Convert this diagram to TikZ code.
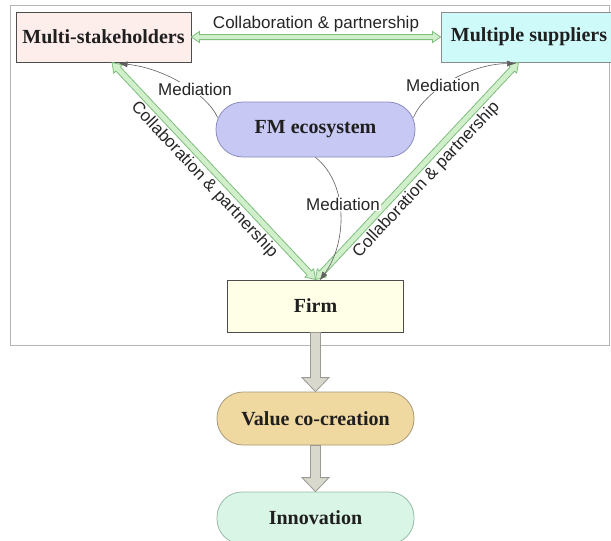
\documentclass[tikz,border=0pt]{standalone}
\usepackage{fontspec}
\setmainfont{Liberation Serif}
\setsansfont{Liberation Sans}
\usetikzlibrary{calc,arrows.meta}
\definecolor{msfill}{HTML}{FDEDEB}
\definecolor{supfill}{HTML}{CFFAFA}
\definecolor{fmfill}{HTML}{C8C8F5}
\definecolor{fmdraw}{HTML}{8C8CC0}
\definecolor{firmfill}{HTML}{FFFFE8}
\definecolor{vccfill}{HTML}{EFD9A1}
\definecolor{vccdraw}{HTML}{A8997A}
\definecolor{innfill}{HTML}{D9F5E6}
\definecolor{inndraw}{HTML}{9ABAAA}
\definecolor{gline}{HTML}{7DBE7D}
\definecolor{gfill}{HTML}{D2EFCC}
\definecolor{grayline}{HTML}{9A9A92}
\definecolor{grayfill}{HTML}{D8D8CC}
\definecolor{framecol}{HTML}{B4B4B4}
\definecolor{medline}{HTML}{606060}
% double-headed block arrow: #1 style, #2 A, #3 B, #4 half shaft, #5 half head, #6 head length
\newcommand\dblblockarrow[6]{%
  \coordinate (ba1) at ($(#2)!#6!(#3)$);
  \coordinate (ba2) at ($(#3)!#6!(#2)$);
  \filldraw[#1] (#2) -- ($(ba1)!#5!90:(#3)$) -- ($(ba1)!#4!90:(#3)$)
    -- ($(ba2)!#4!-90:(#2)$) -- ($(ba2)!#5!-90:(#2)$) -- (#3)
    -- ($(ba2)!#5!90:(#2)$) -- ($(ba2)!#4!90:(#2)$)
    -- ($(ba1)!#4!-90:(#3)$) -- ($(ba1)!#5!-90:(#3)$) -- cycle;}
% single-headed block arrow from A to B
\newcommand\oneblockarrow[6]{%
  \coordinate (ba2) at ($(#3)!#6!(#2)$);
  \filldraw[#1] ($(#2)!#4!90:(#3)$) -- ($(ba2)!#4!-90:(#2)$) -- ($(ba2)!#5!-90:(#2)$)
    -- (#3) -- ($(ba2)!#5!90:(#2)$) -- ($(ba2)!#4!90:(#2)$) -- ($(#2)!#4!-90:(#3)$) -- cycle;}
\begin{document}
\begin{tikzpicture}[x=1pt,y=1pt,
  boxlbl/.style={font=\fontsize{20}{24}\selectfont\bfseries, text=black!88},
  rectbox/.style={boxlbl, draw=black!70, line width=0.9pt, minimum width=175pt, minimum height=50pt, inner sep=0pt},
  pill/.style={boxlbl, line width=0.8pt, inner sep=0pt},
  edgelbl/.style={font=\sffamily\fontsize{17}{20}\selectfont, text=black!85, inner sep=1pt},
  medlbl/.style={edgelbl, fill=white},
  greenarrow/.style={draw=gline, fill=gfill, line width=0.8pt, line join=miter},
  grayarrow/.style={draw=grayline, fill=grayfill, line width=0.8pt},
  mediation/.style={draw=medline, line width=0.6pt, -{Latex[length=9pt,width=6pt]}}]
\fill[white] (0,0) rectangle (611,-541);
\useasboundingbox (0,0) rectangle (611,-541);
\draw[framecol, line width=1pt] (10,-5) rectangle (609,-345);

\node[rectbox, fill=msfill] (ms) at (103.5,-37) {Multi-stakeholders};
\node[rectbox, fill=supfill, draw=black!45, minimum width=176pt] (sup) at (529,-37) {Multiple suppliers};
\node[pill, fill=fmfill, draw=fmdraw, minimum width=199pt, minimum height=55pt, rounded corners=27pt] (fm) at (315.5,-129.5) {FM ecosystem};
\node[rectbox, fill=firmfill, minimum width=176pt, minimum height=52pt] (firm) at (315.5,-306) {Firm};
\node[pill, fill=vccfill, draw=vccdraw, minimum width=197pt, minimum height=53pt, rounded corners=26pt] (vcc) at (315.5,-418.5) {Value co-creation};
\node[pill, fill=innfill, draw=inndraw, minimum width=197pt, minimum height=52pt, rounded corners=25pt] (inn) at (315.5,-518) {Innovation};

% end points of the diagonal arrows
\coordinate (lend) at ($(ms.south)+(8.5,0)$);
\coordinate (rend) at ($(sup.south)+(-10.5,0)$);

% collaboration arrows
\dblblockarrow{greenarrow}{ms.east}{sup.west}{2.6pt}{5.5pt}{8pt}
\dblblockarrow{greenarrow}{firm.north}{lend}{3pt}{6pt}{9pt}
\dblblockarrow{greenarrow}{firm.north}{rend}{3pt}{6pt}{9pt}
\path (ms.east) -- (sup.west) node[midway, above=4pt, edgelbl] (lt) {Collaboration \& partnership};
\path (firm.north) -- (lend) node[midway, sloped, below=4pt, edgelbl] (ll) {Collaboration \& partnership};
\path (firm.north) -- (rend) node[midway, sloped, below=4pt, edgelbl] (lr) {Collaboration \& partnership};

% flow arrows
\oneblockarrow{grayarrow}{firm.south}{vcc.north}{5pt}{13.5pt}{14pt}
\oneblockarrow{grayarrow}{vcc.south}{inn.north}{5pt}{13.5pt}{14pt}

% mediation
\coordinate (m1s) at ($(fm.west)+(2,12)$);
\coordinate (m1e) at ($(ms.south)+(15,-1)$);
\coordinate (m2s) at ($(fm.east)+(-2,12)$);
\coordinate (m2e) at ($(sup.south)+(-13,-1)$);
\coordinate (m3e) at ($(firm.north)+(4,-1)$);
\draw[mediation] (m1s) .. controls (208,-95) and (165,-68) .. (m1e);
\draw[mediation] (m2s) .. controls (424,-92) and (468,-64) .. (m2e);
\draw[mediation] (fm.south) .. controls (350,-185) and (346,-245) .. (m3e);
\node[medlbl] (med1) at (195,-89) {Mediation};
\node[medlbl] (med2) at (443,-85) {Mediation};
\node[medlbl] (med3) at (343,-204) {Mediation};
\end{tikzpicture}
\end{document}
